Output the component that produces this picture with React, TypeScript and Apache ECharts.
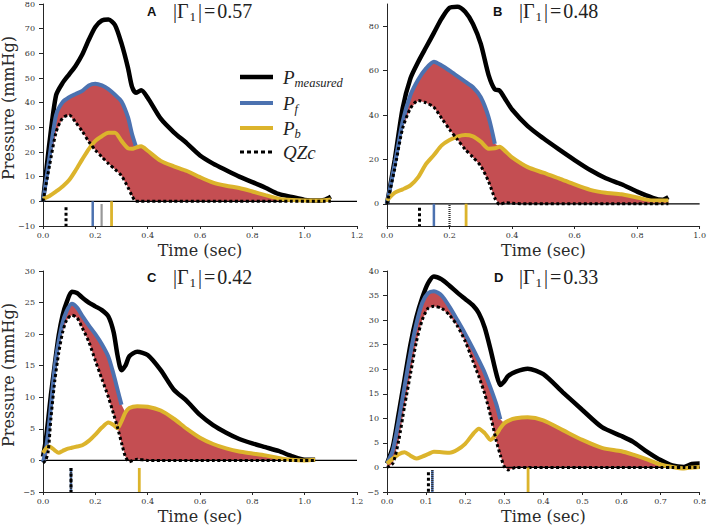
import React, { useEffect, useRef } from 'react';
import * as echarts from 'echarts';

// ---------- Panel A ----------
const A_time = [0, 0.025, 0.05, 0.075, 0.1, 0.125, 0.15, 0.175, 0.2, 0.225, 0.25, 0.275, 0.3, 0.325, 0.34, 0.355, 0.375, 0.4, 0.45, 0.5, 0.55, 0.6, 0.65, 0.7, 0.75, 0.8, 0.85, 0.9, 0.95, 1.0, 1.05, 1.075, 1.1];
const A_measured = [0, 24, 43, 48, 51.5, 55, 59.5, 65.5, 70.7, 73.3, 73.7, 71.5, 64, 54, 46.5, 44, 45, 42, 33.5, 28, 23.5, 18.6, 15.3, 12.6, 10, 7.8, 5.5, 3, 1.8, 0.6, 0.3, 0.6, 1.9];
const A_pf = [0, 18, 35, 40.2, 42.2, 43.5, 44.8, 47, 47.7, 47, 45.5, 43.2, 40.5, 34, 27.4, 22.3, null, null, null, null, null, null, null, null, null, null, null, null, null, null, null, null, null];
const A_pb = [1, 2.2, 4, 6, 8.6, 12.6, 17, 21.2, 24.5, 26.4, 27.8, 27.8, 24.5, 21.5, 21.3, 21.8, 22.3, 20.5, 16.4, 14.2, 12.3, 9.8, 7.6, 6.3, 5.4, 4, 2.5, 1.1, 0.5, 0.3, 0.3, 0.4, 0.7];
const A_qzc = [0, 14.5, 28, 33.8, 35, 32, 28.4, 24.2, 20.8, 18, 15.3, 13, 10.4, 5.6, 2.3, 0, 0, 0, 0, 0, 0, 0, 0, 0, 0, 0, 0, 0, 0, 0, 0, 0, 0];
// marker order: QZc peak, Pf peak, Pmeasured peak, Pb peak
const A_markTimes = [0.088, 0.19, 0.224, 0.262];
const A_markTops = [-2.4, 0, -1.3, 0];

// ---------- Panel B ----------
const B_time = [0, 0.025, 0.05, 0.075, 0.1, 0.125, 0.15, 0.175, 0.2, 0.225, 0.25, 0.275, 0.3, 0.325, 0.345, 0.36, 0.38, 0.4, 0.45, 0.5, 0.55, 0.6, 0.65, 0.7, 0.75, 0.8, 0.85, 0.88, 0.9];
const B_measured = [0, 20, 43, 56.5, 64, 70.5, 77, 83.5, 88.3, 88.8, 86.5, 81, 72, 58, 51.5, 51, 46.8, 42.5, 35, 29.5, 24.5, 19.7, 15.2, 11.5, 8.8, 5.5, 2.7, 1.8, 3];
const B_pf = [0, 18, 37, 49, 56, 61, 64, 62.3, 60, 57.5, 55, 52.5, 48, 39, 27, null, null, null, null, null, null, null, null, null, null, null, null, null, null];
const B_pb = [1.5, 5, 6.5, 8.3, 12, 18, 22, 26.3, 28.7, 30.3, 31, 30.4, 28, 24.8, 25, 25.7, 23.5, 20.9, 16.5, 14, 11.5, 8.7, 6.3, 5, 4.3, 2.8, 1.5, 1.5, 1.5];
const B_qzc = [0, 16, 34, 43, 46.5, 45.5, 43.5, 38.5, 33.5, 29, 24.5, 21, 17, 10, 2.5, -0.3, 0.5, 0.2, 0, 0, 0, 0, 0, 0, 0, 0, 0, 0, 0];
const B_markTimes = [0.104, 0.15, 0.2, 0.253];
const B_markTops = [-1.8, 0, -0.5, 0];

// ---------- Panel C ----------
const C_time = [0, 0.01, 0.02, 0.03, 0.045, 0.06, 0.075, 0.09, 0.11, 0.13, 0.15, 0.175, 0.2, 0.225, 0.25, 0.27, 0.285, 0.3, 0.315, 0.33, 0.36, 0.4, 0.45, 0.5, 0.55, 0.6, 0.65, 0.7, 0.75, 0.8, 0.85, 0.9, 0.95, 1.0, 1.04];
const C_measured = [0.6, 3, 6.5, 10.3, 15.2, 19.8, 23, 25, 26.7, 26.5, 25.8, 25, 24.4, 23.8, 22.8, 20.3, 16.6, 14.3, 15, 16.5, 17.2, 16.7, 14.3, 11.2, 9.4, 7.2, 5.6, 4.4, 3.4, 2.7, 2.1, 1.5, 0.7, 0.1, 0.1];
const C_pf = [-0.3, 1.5, 4.5, 8.5, 14.8, 18.8, 21.8, 23.6, 24.8, 24.2, 22.9, 21.4, 20, 18.4, 16.4, 13.6, 11.2, 8.8, null, null, null, null, null, null, null, null, null, null, null, null, null, null, null, null, null];
const C_pb = [1.2, 1.8, 2.2, 2.1, 1.6, 1.2, 1.5, 1.8, 2, 2.2, 2.4, 3.1, 4.1, 5.2, 6, 5.6, 5.1, 6.2, 7.6, 8.3, 8.6, 8.5, 7.9, 6.6, 5, 3.6, 2.6, 1.9, 1.4, 1.1, 0.8, 0.4, 0.1, 0, 0.1];
const C_qzc = [-0.4, 0, 1.5, 6.5, 12.6, 17, 20.3, 22.2, 23, 22.6, 21, 18.8, 15.8, 12.9, 10, 7.3, 5.2, 2.8, 0.6, -0.2, 0.2, 0, 0, 0, 0, 0, 0, 0, 0, 0, 0, 0, 0, 0, 0];
const C_markTimes = [0.107, 0.107, 0.107, 0.368];
const C_markTops = [-1.2, -1.2, -1.2, -1.2];

// ---------- Panel D ----------
const D_time = [0, 0.015, 0.03, 0.045, 0.06, 0.075, 0.09, 0.105, 0.12, 0.14, 0.16, 0.18, 0.2, 0.22, 0.235, 0.25, 0.265, 0.28, 0.29, 0.3, 0.31, 0.33, 0.36, 0.4, 0.45, 0.5, 0.55, 0.6, 0.63, 0.66, 0.7, 0.73, 0.76, 0.78, 0.8];
const D_measured = [0.8, 4.2, 11, 18, 25, 30.5, 34.5, 37.5, 38.9, 38.3, 37, 35.6, 34.3, 33, 31.4, 28.5, 24, 19, 16.8, 17.5, 18.6, 19.5, 20.1, 19, 15.3, 11.7, 8.2, 6.4, 5.2, 3.5, 1.5, 0.4, 0.1, 0.7, 0.8];
const D_pf = [0.8, 3.5, 9.5, 16.5, 23.3, 29.2, 33.5, 35.5, 35.9, 35, 32.7, 30, 27.2, 24.2, 21.8, 19.3, 16.2, 12.8, 9.8, null, null, null, null, null, null, null, null, null, null, null, null, null, null, null, null];
const D_pb = [0.8, 1.8, 2.7, 3.1, 2.4, 1.8, 2.2, 2.7, 3.2, 3.1, 3, 3.6, 4.8, 6.8, 7.9, 7, 5.6, 6.8, 8, 9, 9.5, 10, 10.2, 9.6, 7.6, 5.6, 4, 3.3, 2.6, 1.8, 0.6, 0.1, -0.2, 0, 0.1];
const D_qzc = [0, 0.8, 5.5, 12.5, 19, 25.5, 30, 32.4, 32.8, 32.4, 31, 28.8, 25.7, 21.6, 18.5, 15, 10.5, 5.3, 2.5, 0.2, -0.5, 0, 0, 0, 0, 0, 0, 0, 0, 0, 0, 0, 0, 0, 0];
const D_markTimes = [0.106, 0.116, 0.116, 0.361];
const D_markTops = [-1, -0.5, -0.5, 0];

// ---------- axes / titles ----------
const panelLetters = ['A', 'B', 'C', 'D'];
const gammaValues = ['0.57', '0.48', '0.42', '0.33'];
const xMaxes = [1.2, 1.0, 1.2, 0.8];
const xIntervals = [0.2, 0.2, 0.2, 0.1];
const yMins = [-10, -10, -5, -5];
const yMaxes = [80, 90, 30, 40];
const yIntervals = [10, 10, 5, 5];
const yTickValues: (number[] | null)[] = [null, [0, 20, 40, 60, 80], null, null];
const legendLabels = [['P', 'measured'], ['P', 'f'], ['P', 'b'], ['QZc', '']];

const panels = [
  { time: A_time, measured: A_measured, pf: A_pf, pb: A_pb, qzc: A_qzc, markTimes: A_markTimes, markTops: A_markTops },
  { time: B_time, measured: B_measured, pf: B_pf, pb: B_pb, qzc: B_qzc, markTimes: B_markTimes, markTops: B_markTops },
  { time: C_time, measured: C_measured, pf: C_pf, pb: C_pb, qzc: C_qzc, markTimes: C_markTimes, markTops: C_markTops },
  { time: D_time, measured: D_measured, pf: D_pf, pb: D_pb, qzc: D_qzc, markTimes: D_markTimes, markTops: D_markTops },
];

const RED = '#c44e52';
const BLUE = '#4c72b0';
const YELLOW = '#dcb42c';
const INK = '#262626';

const grids = [
  { left: 43, top: 4, width: 314, height: 222 },
  { left: 387, top: 4, width: 314, height: 222 },
  { left: 43, top: 271, width: 314, height: 221 },
  { left: 387, top: 271, width: 314, height: 221 },
];
const titlePos = [[147, 173, 11], [493, 519, 11], [147, 173, 277], [494, 519, 277]];

const fmtNum = (v: number) => (v < 0 ? '\u2212' + Math.abs(v) : String(v));

function pairs(time: number[], vals: (number | null)[]) {
  const out: number[][] = [];
  time.forEach((t, i) => {
    if (vals[i] !== null && vals[i] !== undefined) out.push([t, vals[i] as number]);
  });
  return out;
}

function buildOption() {
  const series: any[] = [];
  const xAxis: any[] = [];
  const yAxis: any[] = [];
  panels.forEach((p, k) => {
    xAxis.push({
      gridIndex: k, type: 'value', min: 0, max: xMaxes[k], interval: xIntervals[k],
      axisLine: { show: true, onZero: false, lineStyle: { color: INK, width: 1 } },
      axisTick: { show: true, length: 3, lineStyle: { color: INK } },
      axisLabel: { fontFamily: 'DejaVu Serif', fontSize: 8, color: '#333', margin: 5, formatter: (v: number) => v.toFixed(1) },
      splitLine: { show: false },
      name: 'Time (sec)', nameLocation: 'middle', nameGap: 16,
      nameTextStyle: { fontFamily: 'DejaVu Serif', fontSize: 16, color: '#2a2a2a' },
    });
    const tv = yTickValues[k];
    yAxis.push({
      gridIndex: k, type: 'value', min: yMins[k], max: yMaxes[k], interval: yIntervals[k],
      axisLine: { show: true, lineStyle: { color: INK, width: 1 } },
      axisTick: tv ? { show: true, length: 4, customValues: tv, lineStyle: { color: INK } } : { show: true, length: 4, lineStyle: { color: INK } },
      axisLabel: tv
        ? { fontFamily: 'DejaVu Serif', fontSize: 8, color: '#333', margin: 8, customValues: tv, formatter: (v: number) => (tv.indexOf(v) >= 0 ? fmtNum(v) : '') }
        : { fontFamily: 'DejaVu Serif', fontSize: 8, color: '#333', margin: 8, formatter: fmtNum },
      splitLine: { show: false },
    });

    const base = { xAxisIndex: k, yAxisIndex: k, silent: true, animation: false };
    // red band between QZc and the forward / backward wave
    series.push({
      ...base, type: 'custom', data: [[0, 0]],
      renderItem: (_params: any, api: any) => {
        const upper = p.time.map((_t, i) => (p.pf[i] !== null ? (p.pf[i] as number) : p.pb[i]));
        const top = p.time.map((t, i) => api.coord([t, upper[i]]));
        const bot = p.time.map((t, i) => api.coord([t, p.qzc[i]])).reverse();
        return { type: 'polygon', shape: { points: top.concat(bot) }, style: { fill: RED } };
      },
    });
    // zero line
    series.push({ ...base, type: 'line', data: [[0, 0], [xMaxes[k], 0]], symbol: 'none', lineStyle: { color: '#000', width: 1.2 } });
    const lineBase = { ...base, type: 'line', symbol: 'none', showSymbol: false, smooth: 0.25 };
    series.push({ ...lineBase, data: pairs(p.time, p.measured), lineStyle: { color: '#000', width: 4.5 } });
    series.push({ ...lineBase, data: pairs(p.time, p.pf), lineStyle: { color: BLUE, width: 4 } });
    series.push({ ...lineBase, data: pairs(p.time, p.pb), lineStyle: { color: YELLOW, width: 4 } });
    series.push({ ...lineBase, data: pairs(p.time, p.qzc), lineStyle: { color: '#000', width: 3, type: [3, 2.5], cap: 'butt' } });
    // peak markers below zero
    const yb = yMins[k];
    const mk = (i: number, style: any) =>
      series.push({ ...base, type: 'line', symbol: 'none', data: [[p.markTimes[i], p.markTops[i]], [p.markTimes[i], yb]], lineStyle: style });
    mk(1, { color: BLUE, width: 2.5 });
    mk(3, { color: YELLOW, width: 2.8 });
    mk(2, { color: '#333', width: 2.2, type: [1, 1], cap: 'butt' });
    mk(0, { color: '#000', width: 3, type: [3, 2.5], cap: 'butt' });
  });

  const graphic: any[] = [];
  panelLetters.forEach((L, k) => {
    const [lx, fx, ty] = titlePos[k];
    graphic.push({ type: 'text', x: lx, y: ty, silent: true, style: { text: L, fontFamily: 'Liberation Sans', fontWeight: 'bold', fontSize: 13, fill: '#111', verticalAlign: 'middle' } });
    graphic.push({
      type: 'text', x: fx, y: ty, silent: true,
      style: {
        text: '{a||\u0393}{b|1}{a||}{e|=}{a|' + gammaValues[k] + '}', verticalAlign: 'middle',
        rich: {
          a: { fontFamily: 'Liberation Serif', fontSize: 20, lineHeight: 24, verticalAlign: 'middle', fill: '#222' },
          e: { fontFamily: 'Liberation Serif', fontSize: 20, lineHeight: 24, verticalAlign: 'middle', fill: '#222', padding: [0, 2, 0, 2] },
          b: { fontFamily: 'Liberation Serif', fontSize: 13, lineHeight: 13, verticalAlign: 'bottom', fill: '#222', padding: [0, 2, 0, 1] },
        },
      },
    });
  });
  // y axis titles
  [[8, 108], [8, 375]].forEach(([x, y]) => {
    graphic.push({ type: 'text', x, y, rotation: Math.PI / 2, silent: true, style: { text: 'Pressure (mmHg)', fontFamily: 'DejaVu Serif', fontSize: 16, fill: '#2a2a2a', align: 'center', verticalAlign: 'middle' } });
  });
  // legend (panel A)
  const rows = [77, 103, 128, 152];
  const legendStyles = [
    { stroke: '#000', lineWidth: 4.5 },
    { stroke: BLUE, lineWidth: 4 },
    { stroke: YELLOW, lineWidth: 4 },
    { stroke: '#000', lineWidth: 3, lineDash: [4, 3], lineCap: 'butt' },
  ];
  rows.forEach((y, i) => {
    graphic.push({ type: 'line', silent: true, shape: { x1: 240, y1: y, x2: 273, y2: y }, style: legendStyles[i] });
    const [main, sub] = legendLabels[i];
    graphic.push({
      type: 'text', x: 283, y, silent: true,
      style: {
        text: sub ? '{p|' + main + '}{s|' + sub + '}' : '{p|' + main + '}', verticalAlign: 'middle',
        rich: {
          p: { fontFamily: 'Liberation Serif', fontStyle: 'italic', fontSize: 19, lineHeight: 24, verticalAlign: 'middle', fill: '#222' },
          s: { fontFamily: 'Liberation Serif', fontStyle: 'italic', fontSize: 12.5, lineHeight: 12, verticalAlign: 'bottom', fill: '#222' },
        },
      },
    });
  });

  return { animation: false, backgroundColor: '#fff', grid: grids, xAxis, yAxis, series, graphic };
}

export default function App() {
  const ref = useRef<HTMLDivElement>(null);
  useEffect(() => {
    const chart = echarts.init(ref.current!, undefined, { renderer: 'svg' });
    chart.setOption(buildOption() as any);
    return () => chart.dispose();
  }, []);
  return <div ref={ref} style={{ position: 'fixed', left: 0, top: 0, width: 709, height: 526, background: '#fff' }} />;
}
